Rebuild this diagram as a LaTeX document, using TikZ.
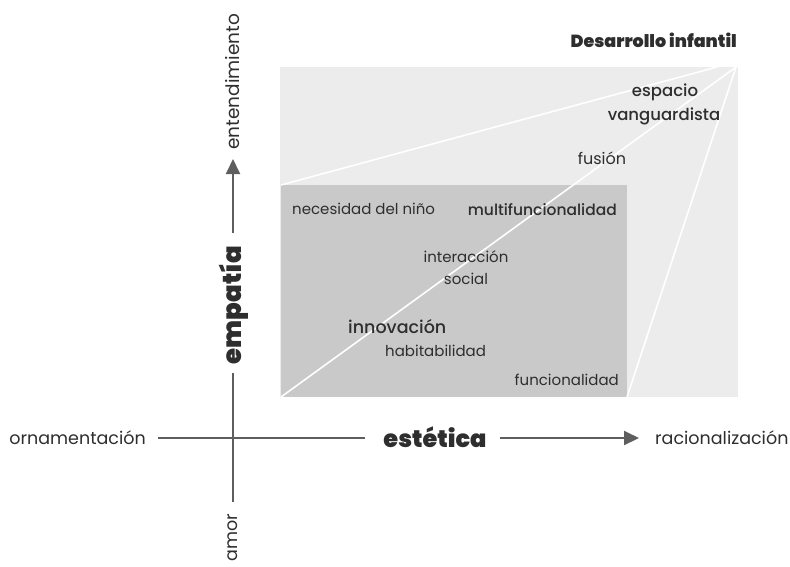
\documentclass[tikz,border=0pt]{standalone}
\usepackage{fontspec}
\setmainfont{Poppins}
\newfontfamily\heavyfont{Poppins Black}
\newfontfamily\medfont{Poppins Medium}
\usetikzlibrary{arrows.meta}
\definecolor{lightbg}{HTML}{ECECEC}
\definecolor{darkbg}{HTML}{C9C9C9}
\definecolor{axisgray}{HTML}{5E5E5E}
\definecolor{txtgray}{HTML}{2E2E2E}
\tikzset{
  axislbl/.style={text=txtgray, inner sep=0pt, font=\fontsize{17.5}{20}\selectfont},
  innerlbl/.style={text=txtgray, inner sep=0pt, font=\fontsize{15}{17}\selectfont},
  medlbl/.style={text=txtgray, inner sep=0pt, font=\medfont\fontsize{15.5}{17}\selectfont},
  heavylbl/.style={text=txtgray, inner sep=0pt, font=\heavyfont},
  axisline/.style={draw=axisgray, line width=2pt},
  axisarrow/.style={axisline, -{Triangle[length=15pt,width=14pt]}},
  whiteline/.style={draw=white, line width=1.6pt}
}
\begin{document}
\begin{tikzpicture}[x=1pt,y=-1pt]
\useasboundingbox (0,0) rectangle (790,566);
% regions
\fill[lightbg] (280,67) rectangle (738,397);
\fill[darkbg] (281,185) rectangle (627,397);
\coordinate (apex) at (736,67);
\coordinate (topend) at (717,67);
\coordinate (dtl) at (281,185);
\coordinate (dbl) at (281,397);
\coordinate (dbr) at (627,397);
\draw[whiteline] (dtl) -- (topend);
\draw[whiteline] (dbl) -- (apex);
\draw[whiteline] (dbr) -- (apex);
% title
\node[heavylbl, font=\heavyfont\fontsize{17.5}{19}\selectfont, anchor=east] (title) at (737,40) {Desarrollo infantil};
% inner labels
\node[medlbl, font=\medfont\fontsize{16.5}{18}\selectfont] (esp) at (665,92) {espacio};
\node[medlbl, font=\medfont\fontsize{16.5}{18}\selectfont] (van) at (664,116) {vanguardista};
\node[innerlbl, font=\fontsize{16}{18}\selectfont] (fus) at (602,158) {fusión};
\node[innerlbl, anchor=west] (nec) at (292,209) {necesidad del niño};
\node[medlbl, anchor=east] (mul) at (617,210) {multifuncionalidad};
\node[innerlbl] (inter) at (466,257) {interacción};
\node[innerlbl] (soc) at (466,279) {social};
\node[medlbl, font=\medfont\fontsize{17.5}{19}\selectfont, anchor=west] (inn) at (348,327) {innovación};
\node[innerlbl, anchor=west] (hab) at (385,351) {habitabilidad};
\node[innerlbl, anchor=east] (fun) at (619,380) {funcionalidad};
% horizontal axis
\node[axislbl, anchor=east] (orn) at (146,438) {ornamentación};
\node[heavylbl, font=\heavyfont\fontsize{24}{26}\selectfont] (est) at (435,437) {estética};
\node[axislbl, anchor=west] (rac) at (655,438) {racionalización};
\coordinate (hA) at (158,438);
\coordinate (hB) at (365,438);
\coordinate (hC) at (500,438);
\coordinate (hD) at (639,438);
\draw[axisline] (hA) -- (hB);
\draw[axisarrow] (hC) -- (hD);
% vertical axis
\node[axislbl, font=\fontsize{18.5}{20}\selectfont, rotate=90, anchor=west] (ent) at (233,150) {entendimiento};
\node[heavylbl, font=\heavyfont\fontsize{26}{28}\selectfont, rotate=90] (emp) at (234,305) {empatía};
\node[axislbl, rotate=90, anchor=east] (amo) at (233,514) {amor};
\coordinate (vA) at (233,502);
\coordinate (vB) at (233,373);
\coordinate (vC) at (233,233);
\coordinate (vD) at (233,159);
\draw[axisline] (vA) -- (vB);
\draw[axisarrow] (vC) -- (vD);
\end{tikzpicture}
\end{document}
